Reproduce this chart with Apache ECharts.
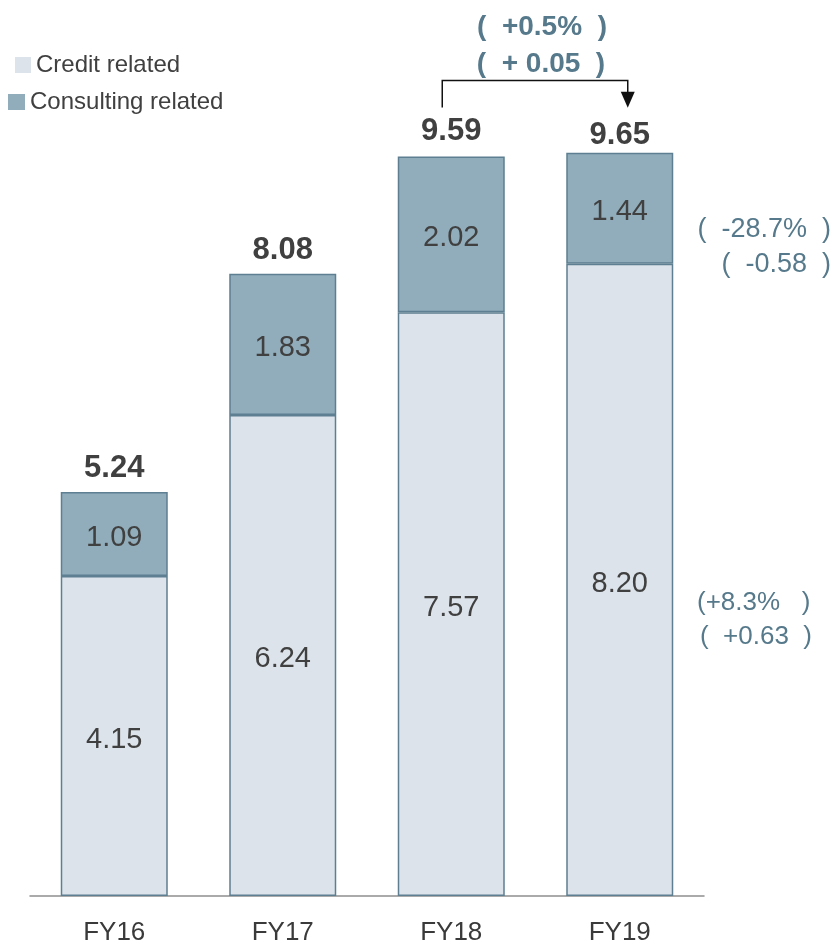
<!DOCTYPE html>
<html>
<head>
<meta charset="utf-8">
<style>
  html, body { margin: 0; padding: 0; background: #ffffff; }
  #chart { width: 834px; height: 946px; }
</style>
<script src="https://cdn.jsdelivr.net/npm/echarts@6/dist/echarts.min.js"></script>
</head>
<body>
<div id="chart"></div>
<script>
// Fiscal years on the x axis
const categories = ['FY16', 'FY17', 'FY18', 'FY19'];
// Revenue split (stacked)
const creditRelated = [4.15, 6.24, 7.57, 8.20];
const consultingRelated = [1.09, 1.83, 2.02, 1.44];
// Reported totals shown above each column
const totals = ['5.24', '8.08', '9.59', '9.65'];
// Year-on-year change notes (FY18 -> FY19)
const totalChange = ['(  +0.5%  )', '(  + 0.05  )'];
const consultingChange = ['(  -28.7%  )', '(  -0.58  )'];
const creditChange = ['(+8.3%   )', '(  +0.63  )'];

const FONT = '"Liberation Sans", Arial, sans-serif';
const DARK = '#404040';
const NOTE = '#56798b';
const BORDER = '#5d7f91';

const chart = echarts.init(document.getElementById('chart'), null, { renderer: 'canvas' });

const valueLabel = {
  show: true, position: 'inside', offset: [0, 4],
  fontSize: 29, color: DARK, fontFamily: FONT,
  formatter: p => p.value.toFixed(2)
};

const option = {
  animation: false,
  textStyle: { fontFamily: FONT },
  grid: { left: 30, right: 130, top: 125, bottom: 42 },
  legend: [
    {
      data: ['Credit related'], left: 15, top: 53, orient: 'vertical', padding: 0,
      icon: 'rect', itemWidth: 16, itemHeight: 16,
      itemStyle: { borderWidth: 0 },
      textStyle: { fontSize: 24, color: DARK, fontFamily: FONT }
    },
    {
      data: ['Consulting related'], left: 8, top: 90, orient: 'vertical', padding: 0,
      icon: 'rect', itemWidth: 17, itemHeight: 16,
      itemStyle: { borderWidth: 0 },
      textStyle: { fontSize: 24, color: DARK, fontFamily: FONT }
    }
  ],
  xAxis: {
    type: 'category',
    data: categories,
    axisLine: { lineStyle: { color: '#8f8f8f', width: 1.5 } },
    axisTick: { show: false },
    axisLabel: { fontSize: 26, color: '#3a3a3a', margin: 24, fontFamily: FONT }
  },
  yAxis: {
    type: 'value', min: 0, max: 10,
    show: false, splitLine: { show: false }
  },
  series: [
    {
      name: 'Credit related', type: 'bar', stack: 'total',
      data: creditRelated, barWidth: 107,
      itemStyle: { color: '#dce3ea', borderColor: BORDER, borderWidth: 1.5 },
      label: valueLabel
    },
    {
      name: 'Consulting related', type: 'bar', stack: 'total',
      data: consultingRelated, barWidth: 107,
      itemStyle: { color: '#91adbb', borderColor: BORDER, borderWidth: 1.5 },
      label: valueLabel
    },
    {
      // invisible carrier for the column totals, sitting on top of the stack
      name: 'totals', type: 'bar', stack: 'total', barWidth: 107,
      data: categories.map(() => 0.0001),
      itemStyle: { color: 'transparent' },
      silent: true,
      label: {
        show: true, position: 'top', fontSize: 31, fontWeight: 'bold',
        color: DARK, fontFamily: FONT,
        formatter: p => totals[p.dataIndex]
      },
      labelLayout: p => ({ dy: [-3, -3, -5, 3][p.dataIndex] })
    }
  ]
};

chart.setOption(option);

// Annotations placed relative to the axis scale
const x18 = chart.convertToPixel({ xAxisIndex: 0 }, 'FY18');
const x19 = chart.convertToPixel({ xAxisIndex: 0 }, 'FY19');
const yTop18 = chart.convertToPixel({ yAxisIndex: 0 }, creditRelated[2] + consultingRelated[2]);
const yTop19 = chart.convertToPixel({ yAxisIndex: 0 }, creditRelated[3] + consultingRelated[3]);
const yCons19 = chart.convertToPixel({ yAxisIndex: 0 }, creditRelated[3] + consultingRelated[3] / 2);
const yCred19 = chart.convertToPixel({ yAxisIndex: 0 }, creditRelated[3] / 2);

const bracketTop = yTop18 - 76;
const lx = x18 - 9;
const rx = x19 + 8;

chart.setOption({
  graphic: [
    {
      type: 'polyline',
      shape: { points: [[lx, yTop18 - 49], [lx, bracketTop], [rx, bracketTop], [rx, yTop19 - 60]] },
      style: { stroke: '#111', lineWidth: 1.5, fill: null }
    },
    {
      type: 'polygon',
      shape: { points: [[rx - 7, yTop19 - 61], [rx + 7, yTop19 - 61], [rx, yTop19 - 45]] },
      style: { fill: '#111' }
    },
    {
      type: 'text', x: (lx + rx) / 2 + 7, y: bracketTop - 53,
      style: { text: totalChange[0], fontSize: 28, fontWeight: 'bold', fill: NOTE,
               fontFamily: FONT, textAlign: 'center', textVerticalAlign: 'middle' }
    },
    {
      type: 'text', x: (lx + rx) / 2 + 6, y: bracketTop - 16,
      style: { text: totalChange[1], fontSize: 28, fontWeight: 'bold', fill: NOTE,
               fontFamily: FONT, textAlign: 'center', textVerticalAlign: 'middle' }
    },
    {
      type: 'text', x: 831, y: yCons19 + 21,
      style: { text: consultingChange[0], fontSize: 27, fill: NOTE,
               fontFamily: FONT, textAlign: 'right', textVerticalAlign: 'middle' }
    },
    {
      type: 'text', x: 831, y: yCons19 + 56,
      style: { text: consultingChange[1], fontSize: 27, fill: NOTE,
               fontFamily: FONT, textAlign: 'right', textVerticalAlign: 'middle' }
    },
    {
      type: 'text', x: 697, y: yCred19 + 23,
      style: { text: creditChange[0], fontSize: 26, fill: NOTE,
               fontFamily: FONT, textAlign: 'left', textVerticalAlign: 'middle' }
    },
    {
      type: 'text', x: 700, y: yCred19 + 57,
      style: { text: creditChange[1], fontSize: 26, fill: NOTE,
               fontFamily: FONT, textAlign: 'left', textVerticalAlign: 'middle' }
    }
  ]
});
</script>
</body>
</html>
